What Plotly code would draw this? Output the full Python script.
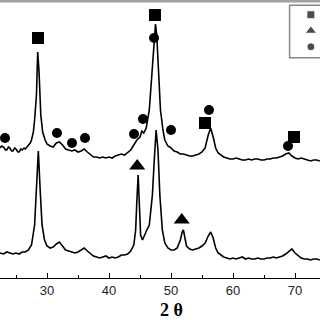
import plotly.graph_objects as go

# ---- data (2-theta in degrees, intensity in arbitrary units) ----
top_x = [22.4, 22.7, 23, 23.3, 23.5, 23.8, 24, 24.3, 24.5, 24.8, 25, 25.3, 25.5, 25.8, 26, 26.3, 26.5,
         26.8, 27, 27.3, 27.5, 27.8, 28, 28.3, 28.5, 28.7, 29, 29.3, 29.7,
         30, 30.5, 31, 31.5, 32, 32.5, 33, 33.5, 34, 34.5, 35, 35.5, 36, 36.5, 37, 37.5, 38, 38.5,
         39, 39.5, 40, 40.5, 41, 41.5, 42, 42.5, 43, 43.5, 44, 44.5, 45, 45.3, 45.6, 46, 46.5, 47,
         47.3, 47.5, 47.7, 48, 48.3, 48.7, 49, 49.5, 50, 50.5, 51, 51.5, 52, 52.5, 53, 53.5, 54,
         54.5, 55, 55.5, 56, 56.4, 56.8, 57.2, 57.6, 58, 58.5, 59, 59.5, 60, 60.5, 61, 61.5, 62,
         62.5, 63, 63.5, 64, 64.5, 65, 65.5, 66, 66.5, 67, 67.5, 68, 68.5, 69, 69.5, 70, 70.5, 71,
         71.5, 72, 72.5, 73, 73.5, 74]
top_y = [130, 132, 131, 128, 128, 131, 130, 127, 127, 130, 129, 126, 126, 129, 128, 130, 129,
         131, 132, 135, 138, 146, 158, 183, 226, 208, 163, 146, 138,
         134, 132, 131, 135, 136, 133, 129, 128, 127, 128, 126, 127, 129, 126, 123, 121, 121, 120,
         121, 120, 121, 120, 122, 123, 124, 123, 126, 128, 133, 138, 141, 147, 145, 150, 168, 208,
         238, 254, 243, 203, 168, 148, 138, 132, 130, 127, 126, 124, 124, 123, 122, 122, 123,
         124, 126, 130, 143, 150, 141, 130, 125, 123, 121, 120, 119, 119, 120, 119, 118, 118,
         119, 118, 119, 119, 118, 118, 119, 119, 120, 120, 121, 122, 124, 125, 122, 120, 119,
         120, 119, 118, 117, 118, 118, 117]

bot_x = [22.4, 23, 23.5, 24, 24.5, 25, 25.5, 26, 26.5, 27, 27.5, 28, 28.3, 28.6, 28.9, 29.2, 29.6,
         30, 30.5, 31, 31.5, 32, 32.5, 33, 33.5, 34, 34.5, 35, 35.5, 36, 36.5, 37, 37.5, 38, 38.5,
         39, 39.5, 40, 40.5, 41, 41.5, 42, 42.5, 43, 43.5, 44, 44.3, 44.5, 44.7, 44.9, 45.1, 45.4,
         45.7, 46.1, 46.5, 47, 47.3, 47.6, 47.9, 48.2, 48.6, 49, 49.5, 50, 50.5, 51, 51.5, 51.8,
         52, 52.2, 52.5, 53, 53.5, 54, 54.5, 55, 55.5, 56, 56.4, 56.8, 57.2, 57.6, 58, 58.5, 59,
         59.5, 60, 60.5, 61, 61.5, 62, 62.5, 63, 63.5, 64, 64.5, 65, 65.5, 66, 66.5, 67, 67.5, 68,
         68.5, 69, 69.5, 70, 70.5, 71, 71.5, 72, 72.5, 73, 73.5, 74]
bot_y = [25, 24, 26, 25, 24, 25, 24, 26, 26, 28, 33, 53, 88, 127, 88, 53, 38,
         32, 30, 31, 34, 36, 32, 28, 27, 26, 25, 26, 28, 30, 27, 24, 22, 21, 20,
         21, 22, 20, 21, 20, 21, 23, 23, 24, 27, 33, 48, 78, 103, 73, 43, 38,
         43, 48, 53, 83, 118, 148, 128, 83, 48, 35, 30, 28, 28, 30, 38, 46,
         48, 42, 32, 29, 28, 29, 30, 32, 35, 42, 46, 40, 30, 25, 23, 21, 20,
         19, 20, 19, 20, 21, 19, 20, 19, 19, 20, 19, 19, 20, 20, 21, 20, 21, 22,
         24, 27, 29, 25, 22, 20, 19, 19, 18, 19, 19, 18]

sq_x = [28.55, 47.42, 55.48, 69.84]
sq_y = [240, 263, 155, 141]
ci_x = [23.23, 31.61, 34.03, 36.13, 44.03, 45.48, 47.26, 50.0, 56.13, 68.87]
ci_y = [140, 145, 135, 140, 144, 159, 240, 148, 168, 132]
tr_x = [44.55, 51.73]
tr_y = [112, 58]

tick_vals = [30, 40, 50, 60, 70]
tick_text = ["30", "40", "50", "60", "70"]
x_title = "<b>2 θ</b>"

fig = go.Figure()
line = dict(color="black", width=1.6)
fig.add_trace(go.Scatter(x=top_x, y=top_y, mode="lines", line=line, showlegend=False))
fig.add_trace(go.Scatter(x=bot_x, y=bot_y, mode="lines", line=line, showlegend=False))
fig.add_trace(go.Scatter(x=sq_x, y=sq_y, mode="markers",
                         marker=dict(symbol="square", size=12, color="black"), showlegend=False))
fig.add_trace(go.Scatter(x=ci_x, y=ci_y, mode="markers",
                         marker=dict(symbol="circle", size=10, color="black"), showlegend=False))
fig.add_trace(go.Scatter(x=tr_x, y=tr_y, mode="markers",
                         marker=dict(symbol="triangle-up", size=14, color="black"), showlegend=False))

# legend symbols in a small inset axis
fig.add_trace(go.Scatter(x=[0, 0, 0], y=[3, 2, 1], mode="markers", xaxis="x2", yaxis="y2",
                         marker=dict(symbol=["square", "triangle-up", "circle"], size=[8, 10, 8],
                                     color="black"), showlegend=False))

fig.update_layout(
    width=320, height=320,
    margin=dict(l=0, r=0, t=1, b=42),
    paper_bgcolor="white", plot_bgcolor="white",
    xaxis=dict(range=[22.42, 74.03], tickvals=tick_vals, ticktext=tick_text,
               ticks="inside", ticklen=5, tickwidth=1.2, tickcolor="black",
               minor=dict(ticks="inside", ticklen=3, tickwidth=1.2, dtick=5, tick0=0, tickcolor="black"),
               showline=True, linecolor="black", linewidth=1.3, showgrid=False, zeroline=False,
               tickfont=dict(family="Liberation Sans, Arial", size=13, color="#222")),
    yaxis=dict(range=[0, 277], visible=False, showgrid=False, zeroline=False),
    xaxis2=dict(domain=[0.905, 1.0], range=[-1.4, 0.6], visible=False, anchor="y2"),
    yaxis2=dict(domain=[0.8, 0.985], range=[0.4, 3.6], visible=False, anchor="x2"),
    annotations=[dict(text=x_title, xref="paper", yref="paper", x=0.535, y=-0.114,
                      xanchor="center", yanchor="middle", showarrow=False,
                      font=dict(family="Liberation Serif, Times New Roman", size=18, color="black"))],
    shapes=[
        dict(type="rect", xref="paper", yref="paper", x0=0.905, x1=1.02, y0=0.795, y1=0.985,
             line=dict(color="#888", width=1.5)),
        dict(type="line", xref="paper", yref="paper", x0=0, x1=1, y0=1.0, y1=1.0,
             line=dict(color="#a0a0a0", width=3)),
    ],
)

fig.write_html("out.html")
